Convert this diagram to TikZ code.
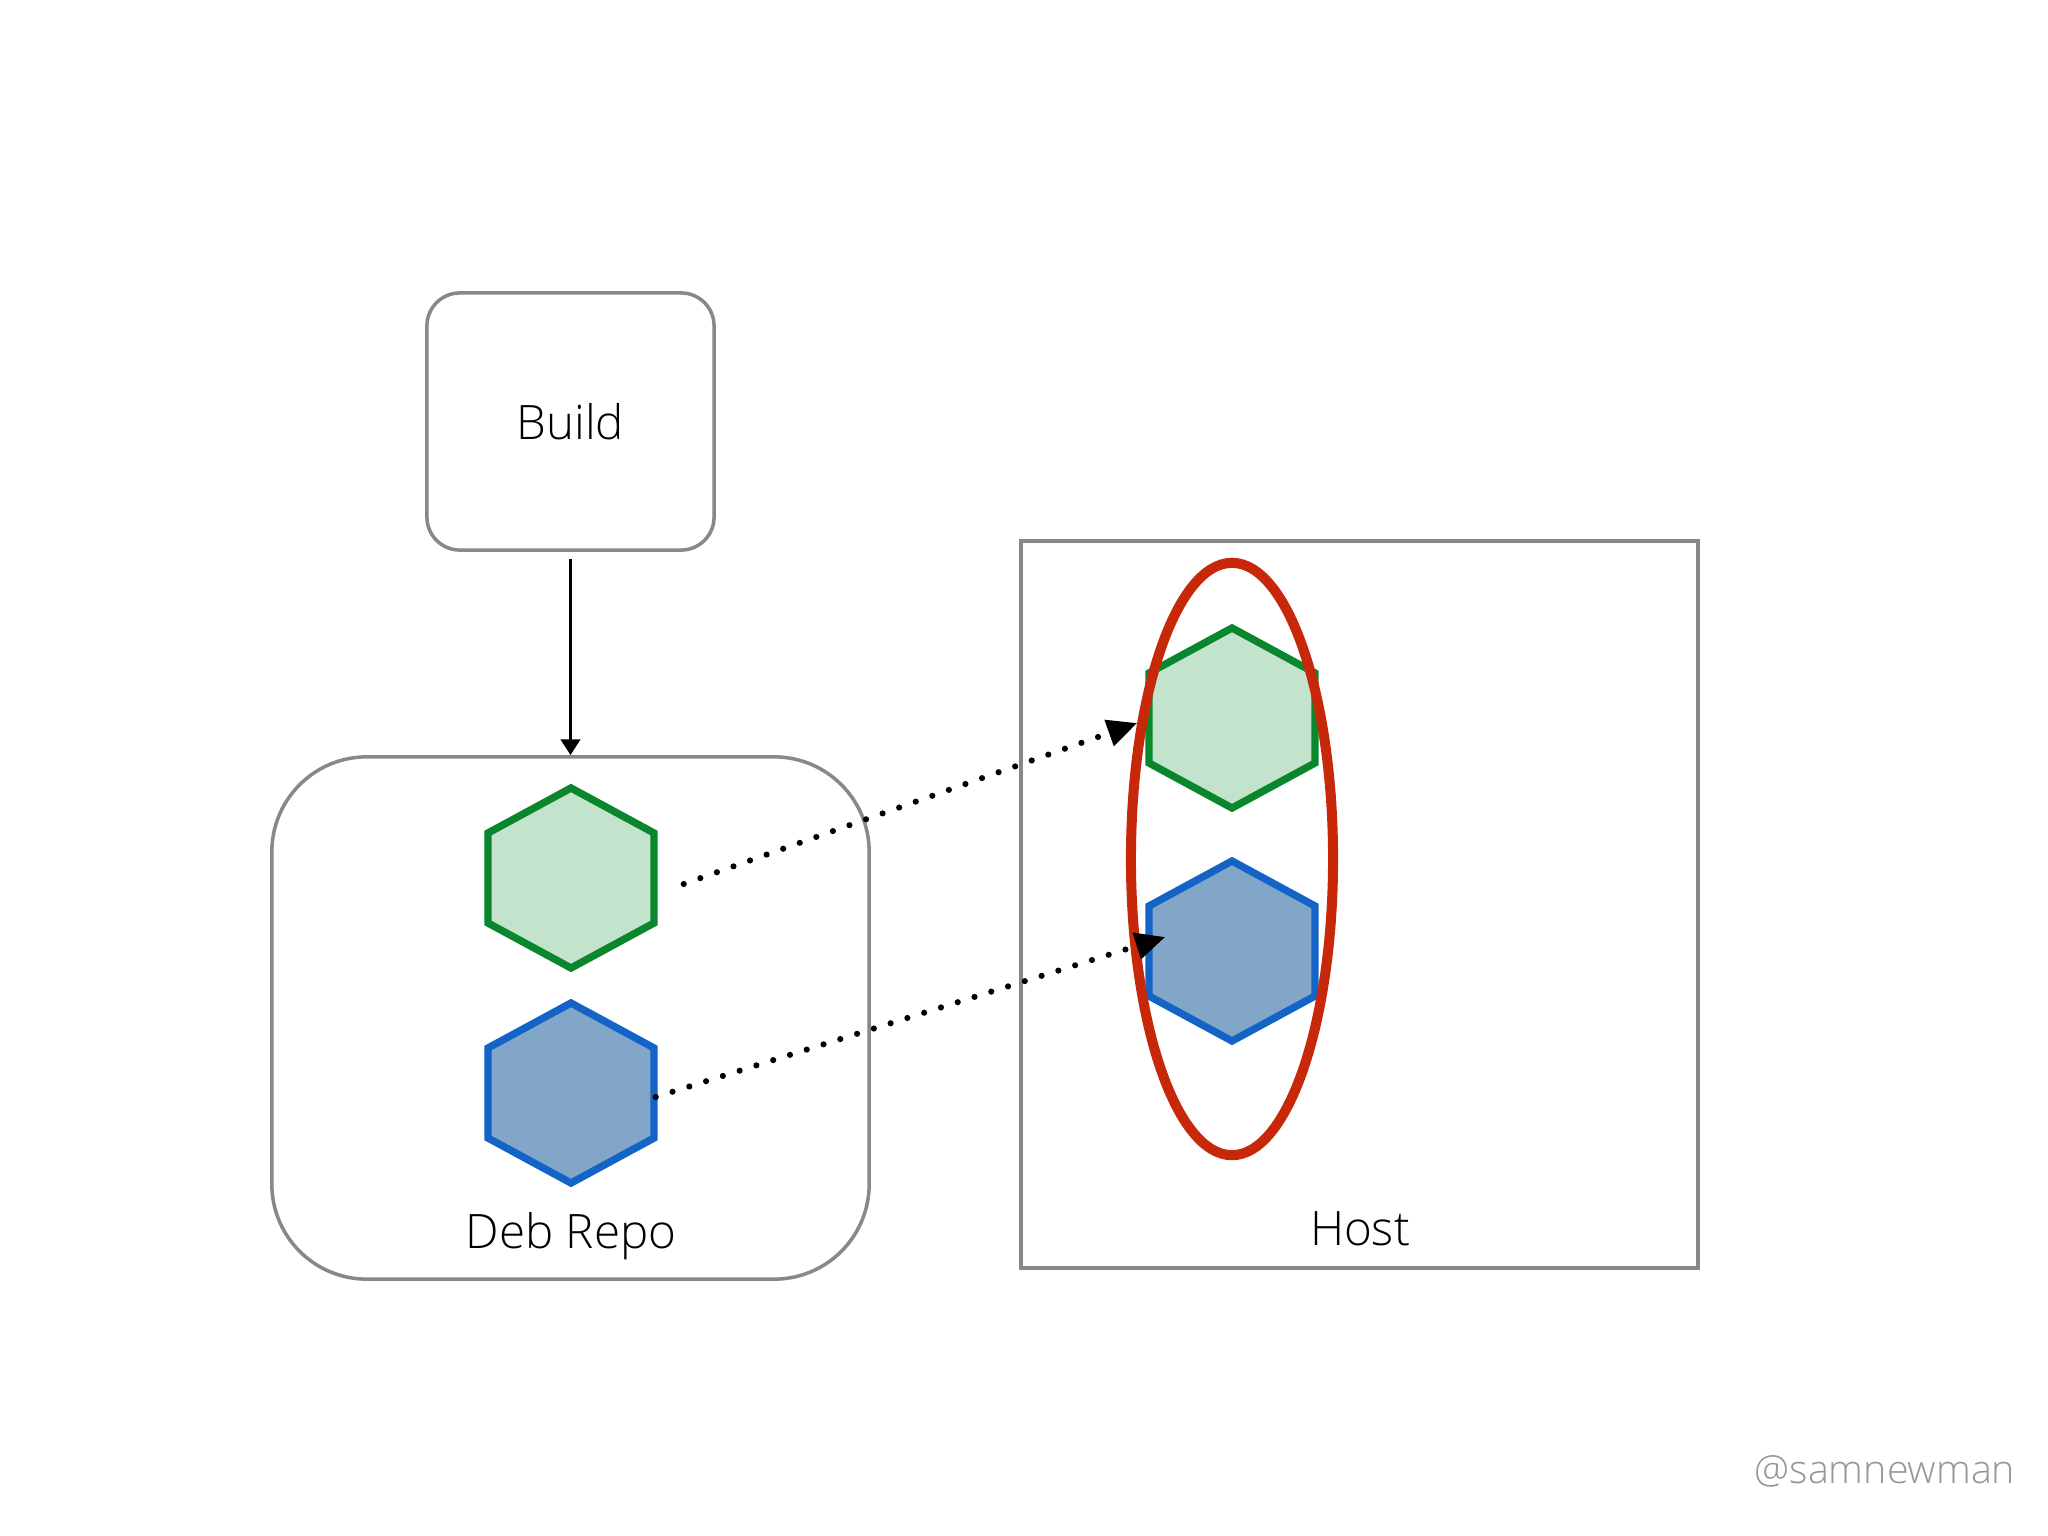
\documentclass[tikz,border=0pt]{standalone}
\usepackage{fontspec}
\IfFontExistsTF{Open Sans Light}{\setmainfont{Open Sans Light}}{\setmainfont{Open Sans}}
\usetikzlibrary{arrows.meta,shapes.geometric,calc}
\definecolor{boxgray}{RGB}{136,136,136}
\definecolor{hexgreen}{RGB}{10,135,45}
\definecolor{hexgreenfill}{RGB}{195,227,205}
\definecolor{hexblue}{RGB}{20,100,200}
\definecolor{hexbluefill}{RGB}{130,166,200}
\definecolor{ringred}{RGB}{200,40,10}
\definecolor{taggray}{RGB}{150,150,150}
\tikzset{
  boxline/.style={draw=boxgray, line width=1pt, inner sep=0pt},
  hexbox/.style={inner sep=0pt, minimum width=1.66cm, minimum height=1.80cm},
  greenhex/.style={draw=hexgreen, fill=hexgreenfill, line width=2.1pt},
  bluehex/.style={draw=hexblue, fill=hexbluefill, line width=2.1pt},
  dotarrow/.style={line width=1.75pt, line cap=round, dash pattern=on 0pt off 5pt, -{Triangle[length=8.5pt,width=7.5pt]}},
  labeltext/.style={font=\fontsize{13.5}{16}\selectfont, text=black, inner sep=0pt},
}
\newcommand{\hexshape}[3]{%
  \node[hexbox] (#1) at (#2) {};
  \draw[#3] ($(#1.center)+(0,-90)$) -- ++(83,45) -- ++(0,90) -- ++(-83,45) -- ++(-83,-45) -- ++(0,-90) -- cycle;
}
\begin{document}
\begin{tikzpicture}[x=0.01cm, y=-0.01cm]
  \useasboundingbox (0,0) rectangle (2048,1536);
  \fill[white] (0,0) rectangle (2048,1536);
  % boxes
  \node[boxline, minimum width=6.77cm, minimum height=7.27cm, line width=1.1pt] (host) at (1359.5,904.5) {};
  \node[boxline, rounded corners=0.95cm, minimum width=5.97cm, minimum height=5.22cm] (deb) at (570.5,1018) {};
  \node[boxline, rounded corners=0.33cm, minimum width=2.87cm, minimum height=2.57cm, labeltext] (build) at (570.5,421.5) {Build};
  \draw[line width=1pt, shorten <=2pt, -{Triangle[length=4.5pt,width=5.5pt]}] (build.south) -- (deb.north);
  % hexagons
  \hexshape{g1}{571,878}{greenhex}
  \hexshape{b1}{571,1093}{bluehex}
  \hexshape{g2}{1232,718}{greenhex}
  \hexshape{b2}{1232,951}{bluehex}
  % red ring
  \node[draw=ringred, line width=2.85pt, ellipse, inner sep=0pt, minimum width=2.02cm, minimum height=5.92cm] (ring) at (1232,859) {};
  % dotted arrows
  \coordinate (s1) at ($(g1.east)+(29,6)$);
  \coordinate (t1) at ($(g2.west)+(-11,5)$);
  \coordinate (s2) at ($(b1.east)+(1,4)$);
  \coordinate (t2) at ($(b2.west)+(17,-14)$);
  \draw[dotarrow] (s1) -- (t1);
  \draw[dotarrow] (s2) -- (t2);
  % labels
  \node[labeltext] (deblabel) at (571,1236) {Deb Repo};
  \node[labeltext] (hostlabel) at (1360,1229) {Host};
  \node[font=\fontsize{11.2}{13}\selectfont, text=taggray, inner sep=0pt] (tag) at (1885,1471) {@samnewman};
\end{tikzpicture}
\end{document}
